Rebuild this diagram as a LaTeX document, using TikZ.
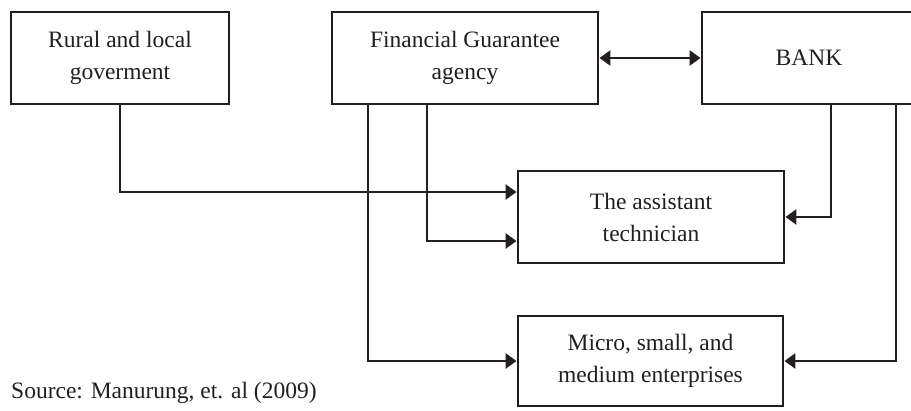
\documentclass[tikz,border=0pt]{standalone}
\usepackage{fontspec}
\setmainfont{Liberation Serif}
\usetikzlibrary{arrows.meta,positioning,calc}
\definecolor{ink}{HTML}{231F20}
\begin{document}
\begin{tikzpicture}[x=1pt,y=1pt,
  box/.style={draw=ink,line width=2.9pt,rectangle,inner sep=0pt,align=center,
    font=\fontsize{23.5}{32}\selectfont,text=ink},
  arr/.style={draw=ink,line width=2.9pt,-{Triangle[length=11pt,width=15pt]}},
  darr/.style={draw=ink,line width=2.9pt,{Triangle[length=11pt,width=15pt]}-{Triangle[length=11pt,width=15pt]}}]
\useasboundingbox (0,0) rectangle (911,-410);
\node[box,minimum width=218pt,minimum height=92pt] (rural) at (120,-58) {Rural and local\\goverment};
\node[box,minimum width=266pt,minimum height=92pt] (fga) at (465,-58) {Financial Guarantee\\agency};
\node[box,minimum width=214pt,minimum height=92pt] (bank) at (809,-58) {BANK};
\node[box,minimum width=266pt,minimum height=92pt] (assist) at (651,-217) {The assistant\\technician};
\node[box,minimum width=265pt,minimum height=90pt] (micro) at (650.5,-361) {Micro, small, and\\medium enterprises};
\node[anchor=west,inner sep=0pt,font=\fontsize{23.5}{28}\selectfont,text=ink] (src) at (11,-393) {Source: Manurung, et. al (2009)};
\draw[darr] (fga.east) -- (bank.west);
\draw[arr] (rural.south) |- ([yshift=25pt]assist.west);
\draw[arr] ([xshift=-38pt]fga.south) |- ([yshift=-24pt]assist.west);
\draw[arr] ([xshift=-97pt]fga.south) |- (micro.west);
\draw[arr] ([xshift=22pt]bank.south) |- (assist.east);
\draw[arr] ([xshift=87pt]bank.south) |- (micro.east);
\end{tikzpicture}
\end{document}
